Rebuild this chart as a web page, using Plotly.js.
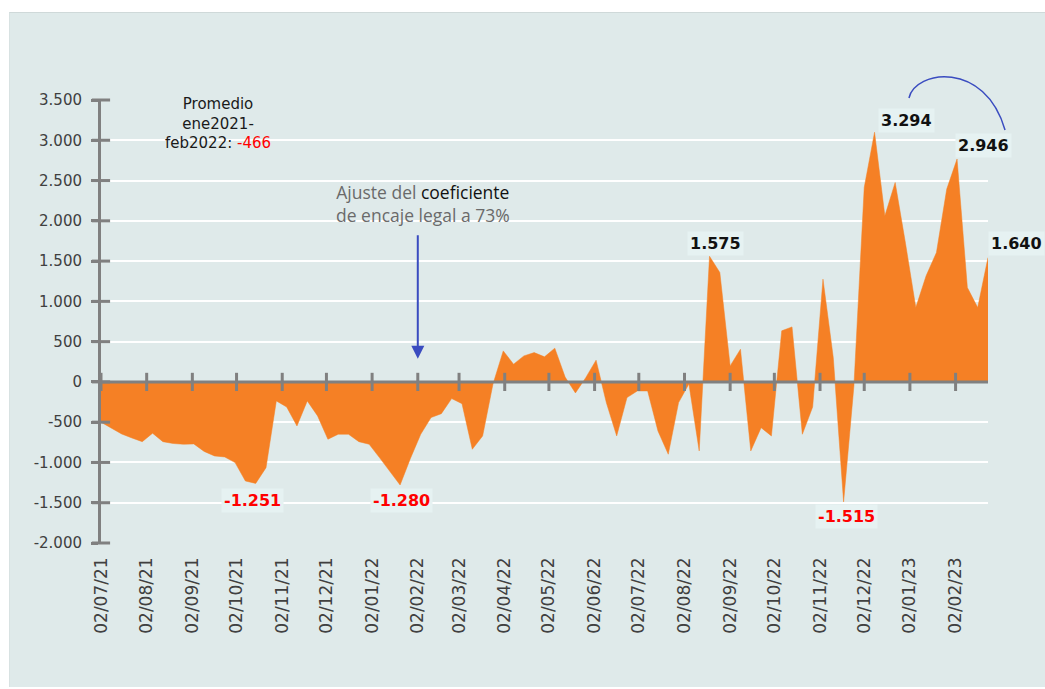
<!DOCTYPE html>
<html>
<head>
<meta charset="utf-8">
<script src="https://cdn.plot.ly/plotly-3.0.1.min.js"></script>
<style>
  html, body { margin: 0; padding: 0; background: #ffffff; }
  #wrap { position: relative; width: 1045px; height: 689px; overflow: hidden; }
  #bg { position: absolute; left: 9px; top: 12px; right: 0; bottom: 2px; background: #dfeaea; border-top: 1px solid #cfd9d9; border-left: 1px solid #d8e2e2; }
  #chart { position: absolute; left: 0; top: 0; width: 1045px; height: 689px; }
</style>
</head>
<body>
<div id="wrap"><div id="bg"></div><div id="chart"></div></div>
<script>
// Weekly series, starting 02/07/2021
const startDate = '2021-07-02';
const values = [
  -500, -570, -646, -696, -742, -637, -742, -765, -774, -770,
  -863, -919, -932, -1002, -1230, -1260, -1065, -236, -311, -547,
  -236, -422, -712, -650, -650, -742, -774, -940, -1105, -1280,
  -950, -650, -443, -394, -207, -270, -836, -671, -30, 385,
  220, 323, 364, 311, 419, 60, -137, 53, 270, -260,
  -671, -195, -112, -112, -609, -898, -257, -25, -857, 1560,
  1358, 199, 406, -857, -568, -671, 634, 683, -650, -311,
  1276, 300, -1490, -50, 2414, 3100, 2062, 2476, 1720, 924,
  1317, 1606, 2394, 2767, 1171, 923, 1544
];
const tickDates = ['2021-07-02','2021-08-02','2021-09-02','2021-10-02','2021-11-02','2021-12-02',
  '2022-01-02','2022-02-02','2022-03-02','2022-04-02','2022-05-02','2022-06-02','2022-07-02',
  '2022-08-02','2022-09-02','2022-10-02','2022-11-02','2022-12-02','2023-01-02','2023-02-02'];
const tickLabels = ['02/07/21','02/08/21','02/09/21','02/10/21','02/11/21','02/12/21',
  '02/01/22','02/02/22','02/03/22','02/04/22','02/05/22','02/06/22','02/07/22',
  '02/08/22','02/09/22','02/10/22','02/11/22','02/12/22','02/01/23','02/02/23'];
const yTicks = [-2000, -1500, -1000, -500, 0, 500, 1000, 1500, 2000, 2500, 3000, 3500];
const yTickLabels = ['-2.000','-1.500','-1.000','-500','0','500','1.000','1.500','2.000','2.500','3.000','3.500'];

// highlighted labels: [date, y, text, color, pixel shift x]
const pointLabels = [
  ['2021-10-13', -1478, '-1.251', '#ff0000', 0],
  ['2022-01-22', -1478, '-1.280', '#ff0000', 0],
  ['2022-11-20', -1677, '-1.515', '#ff0000', 0],
  ['2022-08-23', 1714, '1.575', '#111111', 0],
  ['2022-12-31', 3242, '3.294', '#111111', 0],
  ['2023-02-21', 2932, '2.946', '#111111', 0],
  ['2023-02-24', 1714, '1.640', '#111111', 28]
];

function addDays(iso, n) {
  const d = new Date(iso + 'T00:00:00Z');
  d.setUTCDate(d.getUTCDate() + n);
  return d.toISOString().slice(0, 10);
}
const dates = values.map((v, i) => addDays(startDate, 7 * i));
const endDate = dates[dates.length - 1];

const orange = '#f58025';
const gray = '#808080';

const traces = [
  {
    x: dates, y: values, type: 'scatter', mode: 'lines',
    fill: 'tozeroy', fillcolor: orange,
    line: { color: orange, width: 0.5 },
    hoverinfo: 'skip', showlegend: false
  },
  {
    x: tickDates, y: tickDates.map(() => 0), type: 'scatter', mode: 'markers',
    marker: { symbol: 'line-ns', size: 13, line: { color: gray, width: 3 } },
    hoverinfo: 'skip', showlegend: false, cliponaxis: false
  },
  {
    x: yTicks.map(() => startDate), y: yTicks, type: 'scatter', mode: 'markers',
    marker: { symbol: 'line-ew', size: 13, line: { color: gray, width: 3 } },
    hoverinfo: 'skip', showlegend: false, cliponaxis: false
  }
];

const annotations = pointLabels.map(p => ({
  x: p[0], y: p[1], xref: 'x', yref: 'y', xshift: p[4], text: '<b>' + p[2] + '</b>',
  showarrow: false, bgcolor: '#e6f2f2', borderpad: 2,
  font: { family: 'DejaVu Sans', size: 16, color: p[3] }
}));

annotations.push({
  xref: 'paper', yref: 'paper', x: 0.1319, y: 0.946, xanchor: 'center', yanchor: 'middle',
  text: 'Promedio<br>ene2021-<br>feb2022: <span style="color:#ff0000">-466</span>',
  showarrow: false, align: 'center',
  font: { family: 'DejaVu Sans', size: 15, color: '#1a1a1a' }
});
annotations.push({
  xref: 'paper', yref: 'paper', x: 0.363, y: 0.767, xanchor: 'center', yanchor: 'middle',
  text: 'Ajuste del <span style="color:#111111">coeficiente</span><br>de encaje legal a 73%',
  showarrow: false, align: 'center',
  font: { family: 'Open Sans', size: 17.5, color: '#6a6a6a' }
});
annotations.push({
  x: '2022-02-02', y: 286, xref: 'x', yref: 'y', text: '',
  showarrow: true, ax: 0, ay: -125, axref: 'pixel', ayref: 'pixel',
  arrowhead: 2, arrowsize: 1.3, arrowwidth: 2, arrowcolor: '#3a4cc0'
});

const layout = {
  width: 1045, height: 689,
  margin: { l: 101, r: 57, t: 100, b: 146 },
  paper_bgcolor: 'rgba(0,0,0,0)', plot_bgcolor: 'rgba(0,0,0,0)',
  separators: ',.',
  showlegend: false,
  xaxis: {
    type: 'date', range: [startDate, endDate],
    tickmode: 'array', tickvals: tickDates, ticktext: tickLabels,
    tickangle: -90, ticks: '', showgrid: false, zeroline: false, showline: false,
    ticklabelstandoff: 10,
    tickfont: { family: 'DejaVu Sans', size: 17, color: '#404040' },
    fixedrange: true
  },
  yaxis: {
    range: [-2000, 3500], tickmode: 'array', tickvals: yTicks, ticktext: yTickLabels,
    ticks: 'outside', ticklen: 7, tickwidth: 3, tickcolor: gray,
    ticklabelstandoff: 6,
    showgrid: true, gridcolor: '#ffffff', gridwidth: 2,
    zeroline: false, showline: true, linecolor: gray, linewidth: 3,
    tickfont: { family: 'DejaVu Sans', size: 15, color: '#404040' },
    fixedrange: true
  },
  shapes: [
    { type: 'line', xref: 'paper', yref: 'y', x0: 0, x1: 1, y0: 0, y1: 0,
      line: { color: gray, width: 3 }, layer: 'above' },
    { type: 'path', xref: 'paper', yref: 'paper',
      path: 'M 0.9109 1.0045 C 0.9177 1.0677, 0.9966 1.0903, 1.0192 0.9323',
      line: { color: '#3a4cc0', width: 1.5 }, layer: 'above' }
  ],
  annotations: annotations
};

Plotly.newPlot('chart', traces, layout, { displayModeBar: false, staticPlot: true });
</script>
</body>
</html>
